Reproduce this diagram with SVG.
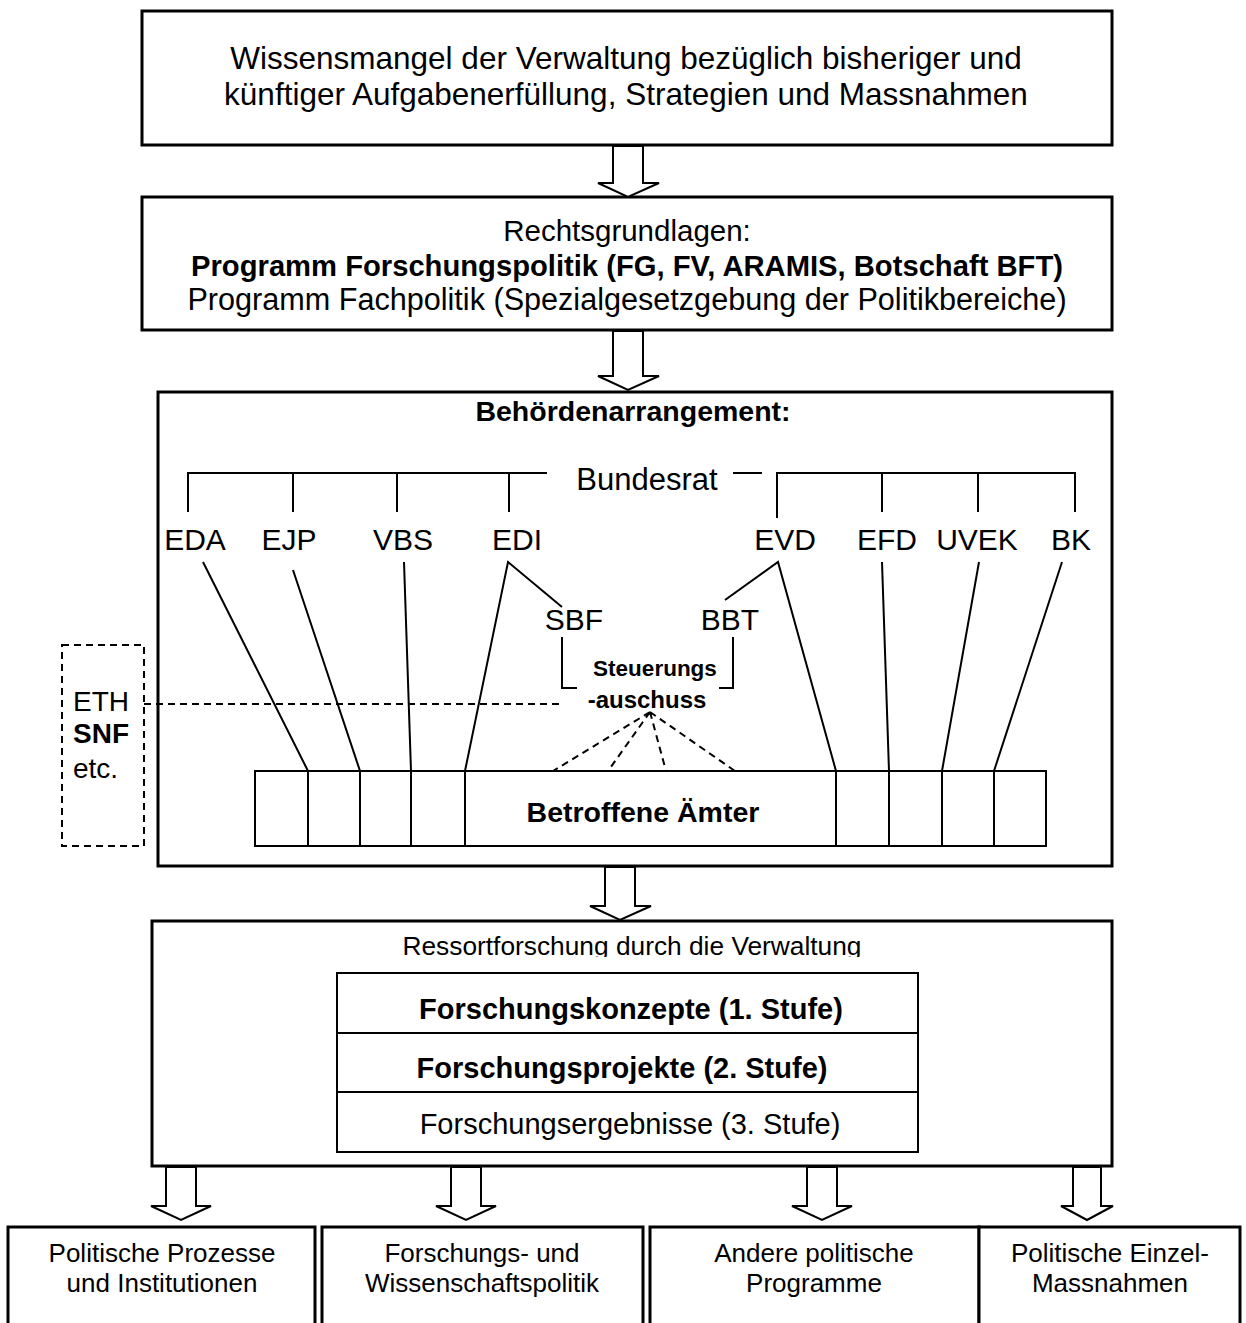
<svg xmlns="http://www.w3.org/2000/svg" width="1246" height="1323" viewBox="0 0 1246 1323">
<style>
text{font-family:"Liberation Sans",Arial,sans-serif;fill:#000}
.box{fill:#fff;stroke:#000;stroke-width:3}
.in{fill:#fff;stroke:#000;stroke-width:2}
.ln{fill:none;stroke:#000;stroke-width:2}
.ds{fill:none;stroke:#000;stroke-width:2;stroke-dasharray:7 5}
.ar{fill:#fff;stroke:#000;stroke-width:2;stroke-linejoin:miter}
.c{text-anchor:middle}
.b{font-weight:bold}
</style>
<defs>
<clipPath id="clipTitle"><rect x="152" y="921" width="960" height="36"/></clipPath>
</defs>

<g id="n1">
<rect class="box" x="142" y="11" width="970" height="134"/>
<text class="c" x="626" y="69" font-size="31.5">Wissensmangel der Verwaltung bezüglich bisheriger und</text>
<text class="c" x="626" y="105" font-size="31.5">künftiger Aufgabenerfüllung, Strategien und Massnahmen</text>
</g>

<g id="n2">
<rect class="box" x="142" y="197" width="970" height="133"/>
<text class="c" x="627" y="241" font-size="29.5">Rechtsgrundlagen:</text>
<text class="c b" x="627" y="276" font-size="29.2">Programm Forschungspolitik (FG, FV, ARAMIS, Botschaft BFT)</text>
<text class="c" x="627" y="310" font-size="30.6">Programm Fachpolitik (Spezialgesetzgebung der Politikbereiche)</text>
</g>

<g id="n3">
<rect class="box" x="158" y="392" width="954" height="474"/>
<text class="c b" x="633" y="421" font-size="28.5">Behördenarrangement:</text>
<text class="c" x="647" y="490" font-size="31">Bundesrat</text>
<g font-size="30" class="c">
<text class="c" x="195" y="550">EDA</text>
<text class="c" x="289" y="550">EJP</text>
<text class="c" x="403" y="550">VBS</text>
<text class="c" x="517" y="550">EDI</text>
<text class="c" x="785" y="550">EVD</text>
<text class="c" x="887" y="550">EFD</text>
<text class="c" x="977" y="550">UVEK</text>
<text class="c" x="1071" y="550">BK</text>
<text class="c" x="574" y="630">SBF</text>
<text class="c" x="730" y="630">BBT</text>
</g>
<text class="c b" x="655" y="676" font-size="22.5">Steuerungs</text>
<text class="c b" x="647" y="708" font-size="24">-auschuss</text>
</g>

<g id="n4">
<rect class="in" x="255" y="771" width="791" height="75"/>
<path class="ln" d="M308 771V846M360 771V846M411 771V846M465 771V846M836 771V846M889 771V846M942 771V846M994 771V846"/>
<text class="c b" x="643" y="822" font-size="28.5">Betroffene Ämter</text>
</g>

<g id="n5">
<rect class="ds" x="62" y="645" width="82" height="201"/>
<text x="73" y="711" font-size="28">ETH</text>
<text class="b" x="73" y="743" font-size="28">SNF</text>
<text x="73" y="778" font-size="28">etc.</text>
</g>

<g id="n6">
<rect class="box" x="152" y="921" width="960" height="245"/>
<text class="c" x="632" y="955" font-size="26.3" clip-path="url(#clipTitle)">Ressortforschung durch die Verwaltung</text>
<rect class="in" x="337" y="973" width="581" height="179"/>
<path class="ln" d="M337 1033H918M337 1092H918"/>
<text class="c b" x="631" y="1019" font-size="29">Forschungskonzepte (1. Stufe)</text>
<text class="c b" x="622" y="1078" font-size="29">Forschungsprojekte (2. Stufe)</text>
<text class="c" x="630" y="1134" font-size="29">Forschungsergebnisse (3. Stufe)</text>
</g>

<g id="n7">
<rect class="box" x="8" y="1227" width="307" height="120"/>
<text class="c" x="162" y="1262" font-size="26">Politische Prozesse</text>
<text class="c" x="162" y="1292" font-size="26">und Institutionen</text>
</g>
<g id="n8">
<rect class="box" x="322" y="1227" width="321" height="120"/>
<text class="c" x="482" y="1262" font-size="26">Forschungs- und</text>
<text class="c" x="482" y="1292" font-size="26">Wissenschaftspolitik</text>
</g>
<g id="n9">
<rect class="box" x="650" y="1227" width="329" height="120"/>
<text class="c" x="814" y="1262" font-size="26">Andere politische</text>
<text class="c" x="814" y="1292" font-size="26">Programme</text>
</g>
<g id="n10">
<rect class="box" x="979" y="1227" width="261" height="120"/>
<text class="c" x="1110" y="1262" font-size="26">Politische Einzel-</text>
<text class="c" x="1110" y="1292" font-size="26">Massnahmen</text>
</g>

<g id="connectors">
<path class="ln" d="M188 512V473H547M293 512V473M397 512V473M509 512V473"/>
<path class="ln" d="M733 473H762M777 518V473H1075V512M882 473V512M978 473V512"/>
<path class="ln" d="M203 562L308 771M293 570L360 771M404 562L411 771M562 607L508 562L465 771"/>
<path class="ln" d="M725 600L778 562L836 771M882 562L889 771M979 562L942 771M1062 562L994 771"/>
<path class="ln" d="M562 637V688H577M733 637V688H719"/>
<path class="ds" d="M144 704H563"/>
<path class="ds" d="M650 712L553 771M650 712L608 771M650 712L666 771M650 712L735 771"/>
<polygon class="ar" points="613,146 613,183 598,183 628,197 659,183 643,183 643,146"/>
<polygon class="ar" points="613,331 613,376 598,376 628,390 659,376 643,376 643,331"/>
<polygon class="ar" points="605,867 605,906 590,906 620,920 651,906 635,906 635,867"/>
<polygon class="ar" points="166,1167 166,1206 151,1206 181,1220 211,1206 196,1206 196,1167"/>
<polygon class="ar" points="451,1167 451,1206 436,1206 466,1220 496,1206 481,1206 481,1167"/>
<polygon class="ar" points="807,1167 807,1206 792,1206 822,1220 852,1206 837,1206 837,1167"/>
<polygon class="ar" points="1073,1167 1073,1206 1061,1206 1087,1220 1113,1206 1101,1206 1101,1167"/>
</g>
</svg>
